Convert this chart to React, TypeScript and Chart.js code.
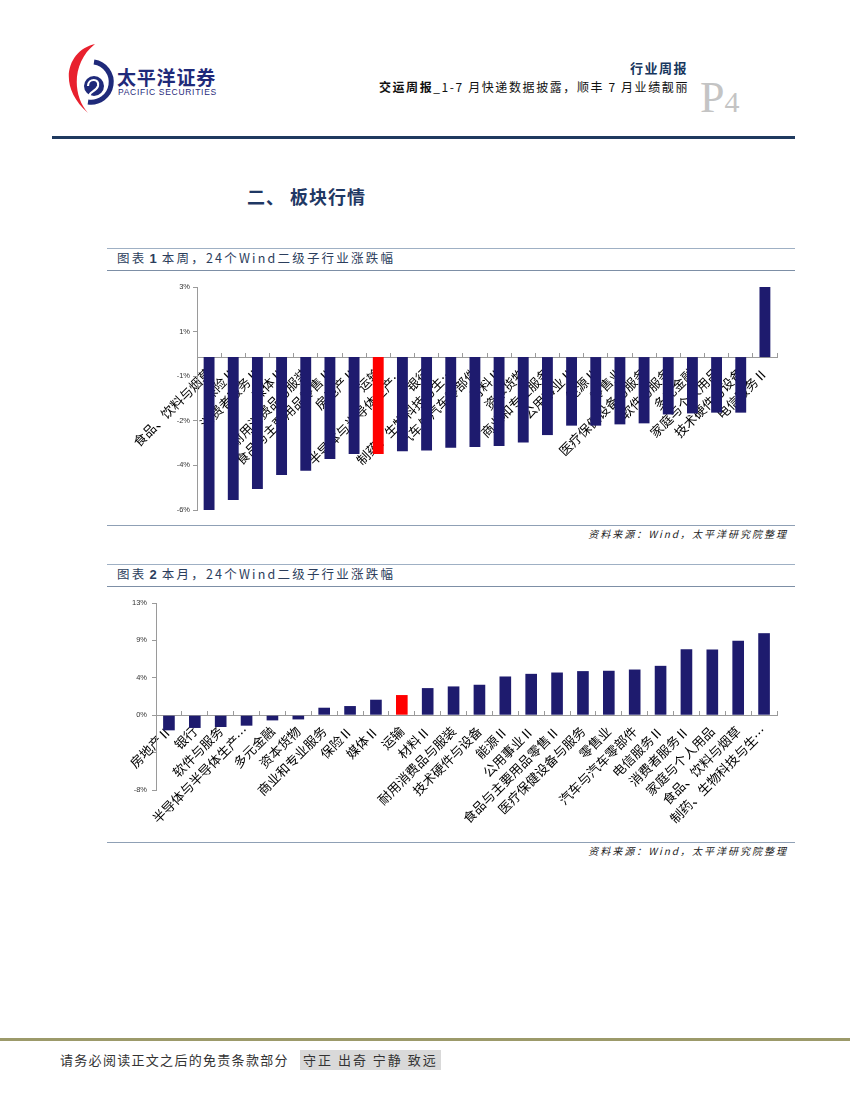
import React, { useEffect, useRef } from 'react';
import { Chart, registerables } from 'chart.js';

Chart.register(...registerables);

// ---------- data ----------
const weekCategories = [
  '食品、饮料与烟草', '保险Ⅱ', '消费者服务Ⅱ', '媒体Ⅱ', '耐用消费品与服装', '食品与主要用品零售Ⅱ',
  '房地产Ⅱ', '运输', '半导体与半导体生产…', '银行', '制药、生物科技与生…', '汽车与汽车零部件',
  '材料Ⅱ', '资本货物', '商业和专业服务', '公用事业Ⅱ', '能源Ⅱ', '零售业',
  '医疗保健设备与服务', '软件与服务', '多元金融', '家庭与个人用品', '技术硬件与设备', '电信服务Ⅱ',
];
const weekValues = [
  -6.0, -5.61, -5.18, -4.63, -4.46, -4.0,
  -3.8, -3.8, -3.69, -3.67, -3.56, -3.53,
  -3.49, -3.35, -3.06, -2.69, -2.69, -2.64,
  -2.6, -2.25, -2.21, -2.18, -2.18, 2.75,
];
const weekAxis = [-6, 2.75, 1.75]; // min, max, step

const monthCategories = [
  '房地产Ⅱ', '银行', '软件与服务', '半导体与半导体生产…', '多元金融', '资本货物',
  '商业和专业服务', '保险Ⅱ', '媒体Ⅱ', '运输', '材料Ⅱ', '耐用消费品与服装',
  '技术硬件与设备', '能源Ⅱ', '公用事业Ⅱ', '食品与主要用品零售Ⅱ', '医疗保健设备与服务', '零售业',
  '汽车与汽车零部件', '电信服务Ⅱ', '消费者服务Ⅱ', '家庭与个人用品', '食品、饮料与烟草', '制药、生物科技与生…',
];
const monthValues = [
  -1.72, -1.45, -1.34, -1.19, -0.59, -0.48,
  0.85, 1.04, 1.76, 2.29, 3.08, 3.27,
  3.46, 4.4, 4.7, 4.85, 5.01, 5.05,
  5.19, 5.61, 7.5, 7.47, 8.45, 9.32,
];
const monthAxis = [-8.5, 12.75, 4.25];
const monthHiddenTicks = [-4.25];

const highlightCategory = '运输';

// ---------- styles ----------
const NAVY = '#1E1B6E';
const RED = '#FF0000';
const AXIS = '#9a9a9a';
const CJK = '"Noto Sans CJK SC", "Noto Sans", sans-serif';

type ChartProps = {
  cats: string[];
  vals: number[];
  axis: number[];
  hidden?: number[];
  left: number;
  top: number;
  width: number;
  height: number;
  axisW: number;
  pad: { top: number; bottom: number; right: number; left: number };
  yPad: number;
};

function BarChart(p: ChartProps) {
  const ref = useRef<HTMLCanvasElement>(null);
  useEffect(() => {
    const colors = p.cats.map((c) => (c === highlightCategory ? RED : NAVY));
    const chart = new Chart(ref.current as HTMLCanvasElement, {
      type: 'bar',
      data: {
        labels: p.cats,
        datasets: [
          {
            data: p.vals,
            backgroundColor: colors,
            borderWidth: 0,
            barPercentage: 0.9,
            categoryPercentage: 0.5,
          },
        ],
      },
      options: {
        animation: false,
        responsive: false,
        maintainAspectRatio: false,
        devicePixelRatio: 1,
        layout: { padding: p.pad },
        plugins: { legend: { display: false }, tooltip: { enabled: false } },
        scales: {
          x: {
            position: { y: 0 } as any,
            z: 1,
            grid: {
              display: true,
              drawOnChartArea: false,
              drawTicks: true,
              tickLength: -5,
              color: AXIS,
              offset: true,
            },
            border: { display: true, color: AXIS, width: 1 },
            ticks: {
              autoSkip: false,
              minRotation: 45,
              maxRotation: 45,
              padding: 13,
              color: '#000',
              font: { family: CJK, size: 13 },
            },
          },
          y: {
            min: p.axis[0],
            max: p.axis[1],
            ticks: {
              stepSize: p.axis[2],
              color: '#333',
              padding: p.yPad,
              font: { family: '"Liberation Sans", Arial, sans-serif', size: 7.5 },
              callback: (v: any) => {
                const n = Number(v);
                if ((p.hidden || []).some((h) => Math.abs(h - n) < 1e-6)) return '';
                return Math.round(n) + '%';
              },
            },
            grid: { drawOnChartArea: false, drawTicks: true, tickLength: 4, color: AXIS },
            border: { display: true, color: AXIS, width: 1 },
            afterFit: (s: any) => {
              s.width = p.axisW;
            },
          },
        },
      },
    });
    return () => chart.destroy();
  }, []);
  return (
    <canvas
      ref={ref}
      width={p.width}
      height={p.height}
      style={{ position: 'absolute', left: p.left, top: p.top, width: p.width, height: p.height }}
    />
  );
}

const abs = (left: number, top: number, extra: React.CSSProperties = {}): React.CSSProperties => ({
  position: 'absolute',
  left,
  top,
  whiteSpace: 'nowrap',
  lineHeight: 1,
  ...extra,
});

function HLine({ top, left, width, h, color }: { top: number; left: number; width: number; h: number; color: string }) {
  return <div style={{ position: 'absolute', top, left, width, height: h, background: color }} />;
}

function ChartTitle({ top, num, text }: { top: number; num: string; text: string }) {
  return (
    <>
      <HLine top={top} left={107} width={688} h={1} color="#9fb0c4" />
      <div style={abs(117, top + 4, { fontSize: 12.5, color: '#2c3e5c', letterSpacing: 2.2, fontFamily: CJK })}>
        图表<b style={{ fontSize: 13, margin: '0 3px', fontFamily: '"Liberation Sans", sans-serif' }}>{num}</b>
        {text}
      </div>
      <HLine top={top + 22} left={107} width={688} h={1} color="#7d8fa6" />
    </>
  );
}

function Source({ top }: { top: number }) {
  return (
    <div
      style={{
        position: 'absolute',
        top,
        right: 850 - 788,
        fontSize: 10,
        fontStyle: 'italic',
        color: '#222',
        fontFamily: CJK,
        letterSpacing: 2,
        whiteSpace: 'nowrap',
        lineHeight: 1,
      }}
    >
      资料来源：Wind，太平洋研究院整理
    </div>
  );
}

export default function App() {
  return (
    <div
      style={{
        position: 'absolute',
        left: 0,
        top: 0,
        width: 850,
        height: 1100,
        background: '#fff',
        fontFamily: CJK,
        overflow: 'hidden',
      }}
    >
      {/* logo */}
      <svg style={{ position: 'absolute', left: 58, top: 40 }} width={60} height={80} viewBox="0 0 60 80">
        <path d="M 37 4 C 10 10, -2 45, 30 73 C 14 55, 14 22, 37 4 Z" fill="#E8212E" />
        <path d="M 36 22 A 19 19 0 1 1 30 62" fill="none" stroke="#1F2A7A" strokeWidth={5} />
        <circle cx={36} cy={46} r={10} fill="#1F2A7A" />
        <path d="M 30 46 C 30 38, 42 38, 40 46 C 38 52, 30 52, 32 56" fill="none" stroke="#fff" strokeWidth={2.2} />
      </svg>
      <div style={abs(117, 67, { fontSize: 19, fontWeight: 700, color: '#1F2A7A', letterSpacing: 0.8 })}>太平洋证券</div>
      <div
        style={abs(118, 88, {
          fontSize: 8.5,
          color: '#1F2A7A',
          letterSpacing: 0.7,
          fontFamily: '"Liberation Sans", Arial, sans-serif',
        })}
      >
        PACIFIC SECURITIES
      </div>

      {/* header right */}
      <div
        style={{
          ...abs(0, 61, { fontSize: 13, fontWeight: 700, color: '#17375E', letterSpacing: 1.5 }),
          left: undefined,
          right: 850 - 688,
        }}
      >
        行业周报
      </div>
      <div
        style={{
          ...abs(0, 81, { fontSize: 12, color: '#111', letterSpacing: 1.6 }),
          left: undefined,
          right: 850 - 689,
        }}
      >
        <b>交运周报</b>_1-7 月快递数据披露，顺丰 7 月业绩靓丽
      </div>
      <div
        style={abs(700, 76, {
          fontFamily: '"Liberation Serif", "DejaVu Serif", serif',
          color: '#c4c4c4',
          fontSize: 44,
        })}
      >
        P<span style={{ fontSize: 30 }}>4</span>
      </div>
      <HLine top={136} left={52} width={743} h={3} color="#1F3A5F" />

      {/* section title */}
      <div style={abs(247, 187, { fontSize: 18, fontWeight: 700, color: '#1F3864', letterSpacing: 1 })}>二、 板块行情</div>

      {/* chart 1 */}
      <ChartTitle top={248} num="1" text="本周，24个Wind二级子行业涨跌幅" />
      <BarChart
        cats={weekCategories}
        vals={weekValues}
        axis={weekAxis}
        left={110}
        top={272}
        width={690}
        height={250}
        axisW={87}
        pad={{ top: 15, bottom: 12, right: 23, left: 0 }}
        yPad={3}
      />
      <HLine top={525} left={107} width={688} h={1} color="#8fa0b5" />
      <Source top={529} />

      {/* chart 2 */}
      <ChartTitle top={564} num="2" text="本月，24个Wind二级子行业涨跌幅" />
      <BarChart
        cats={monthCategories}
        vals={monthValues}
        axis={monthAxis}
        hidden={monthHiddenTicks}
        left={110}
        top={590}
        width={690}
        height={250}
        axisW={46}
        pad={{ top: 13, bottom: 50, right: 23, left: 0 }}
        yPad={5}
      />
      <HLine top={842} left={107} width={688} h={1} color="#8fa0b5" />
      <Source top={846} />

      {/* footer */}
      <HLine top={1038} left={0} width={850} h={3} color="#9C9A6A" />
      <div style={abs(60, 1053, { fontSize: 13, color: '#333', letterSpacing: 1.3 })}>请务必阅读正文之后的免责条款部分</div>
      <div
        style={abs(300, 1050, {
          fontSize: 13,
          color: '#333',
          background: '#d9d9d9',
          padding: '3px 3px 4px 3px',
          letterSpacing: 2,
        })}
      >
        守正 出奇 宁静 致远
      </div>
    </div>
  );
}
